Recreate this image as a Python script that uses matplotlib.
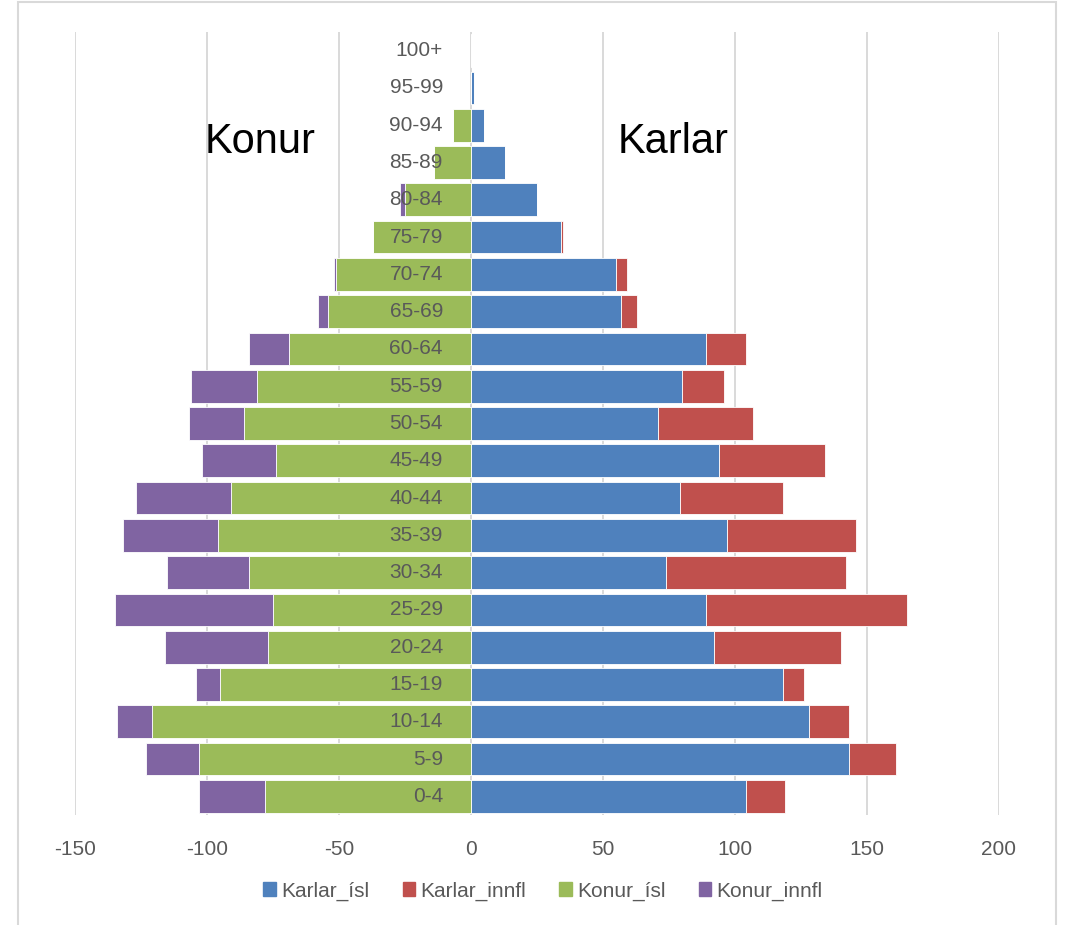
import matplotlib
matplotlib.use("Agg")
import matplotlib.pyplot as plt
from matplotlib.patches import Rectangle, Patch
from matplotlib.transforms import ScaledTranslation

plt.rcParams["axes.unicode_minus"] = False
plt.rcParams["font.family"] = ["Liberation Sans Narrow", "Liberation Sans", "DejaVu Sans"]

# ── Gögn: aldursflokkar og fjöldi ───────────────────────────
ages = ["0-4", "5-9", "10-14", "15-19", "20-24", "25-29", "30-34", "35-39",
        "40-44", "45-49", "50-54", "55-59", "60-64", "65-69", "70-74",
        "75-79", "80-84", "85-89", "90-94", "95-99", "100+"]
karlar_isl   = [104, 143, 128, 118, 92, 89, 74, 97, 79, 94, 71, 80, 89, 57, 55, 34, 25, 13, 5, 1, 0]
karlar_innfl = [15, 18, 15, 8, 48, 76, 68, 49, 39, 40, 36, 16, 15, 6, 4, 1, 0, 0, 0, 0, 0]
konur_isl    = [78, 103, 121, 95, 77, 75, 84, 96, 91, 74, 86, 81, 69, 54, 51, 37, 25, 14, 7, 0, 0]
konur_innfl  = [25, 20, 13, 9, 39, 60, 31, 36, 36, 28, 21, 25, 15, 4, 1, 0, 2, 0, 0, 0, 0]

x_ticks  = [-150, -100, -50, 0, 50, 100, 150, 200]
x_labels = ["-150", "-100", "-50", "0", "50", "100", "150", "200"]

C_KARL_ISL   = "#4F81BD"
C_KARL_INNFL = "#C0504D"
C_KONA_ISL   = "#9BBB59"
C_KONA_INNFL = "#8064A2"
GRAY_TXT = "#595959"
GRID = "#D9D9D9"

fig = plt.figure(figsize=(10.66, 9.25), dpi=100)
ax = fig.add_axes([75 / 1066, 110 / 925, 924 / 1066, 783 / 925])

y = list(range(len(ages)))
h = 0.88
kw = dict(height=h, edgecolor="white", linewidth=0.6)

# karlar til hægri
ax.barh(y, karlar_isl, color=C_KARL_ISL, **kw)
ax.barh(y, karlar_innfl, left=karlar_isl, color=C_KARL_INNFL, **kw)
# konur til vinstri (neikvæð gildi)
neg_isl = [-v for v in konur_isl]
neg_innfl = [-v for v in konur_innfl]
ax.barh(y, neg_isl, color=C_KONA_ISL, **kw)
ax.barh(y, neg_innfl, left=neg_isl, color=C_KONA_INNFL, **kw)

ax.set_xlim(-150, 200)
ax.set_ylim(-0.5, len(ages) - 0.5)
ax.set_xticks(x_ticks)
ax.set_xticklabels(x_labels)
ax.set_yticks([])

ax.set_axisbelow(True)
ax.grid(axis="x", color=GRID, lw=1.4)
for s in ["top", "right", "bottom", "left"]:
    ax.spines[s].set_visible(False)

ax.tick_params(axis="x", length=0, pad=18, labelsize=15, labelcolor=GRAY_TXT)

# aldursmerki ofan á súlunum, vinstra megin við 0-ásinn
lbl_tr = ax.transData + ScaledTranslation(-0.28, 0, fig.dpi_scale_trans)
for i, a in enumerate(ages):
    ax.text(0, i, a, transform=lbl_tr, ha="right", va="center",
            fontsize=15, color=GRAY_TXT, zorder=10)

ax.text(0.2, 0.8595, "Konur", transform=ax.transAxes, ha="center", va="center",
        fontsize=30, color="black", zorder=10)
ax.text(0.647, 0.8595, "Karlar", transform=ax.transAxes, ha="center", va="center",
        fontsize=30, color="black", zorder=10)

handles = [Patch(color=C_KARL_ISL), Patch(color=C_KARL_INNFL),
           Patch(color=C_KONA_ISL), Patch(color=C_KONA_INNFL)]
leg = fig.legend(handles, ["Karlar_ísl", "Karlar_innfl", "Konur_ísl", "Konur_innfl"],
                 loc="center", bbox_to_anchor=(543 / 1066, 1 - 891 / 925), ncol=4,
                 frameon=False, fontsize=15, handlelength=0.6, handleheight=0.6,
                 handletextpad=0.25, columnspacing=1.6)
for t in leg.get_texts():
    t.set_color(GRAY_TXT)

# rammi utan um myndina
fig.patches.append(Rectangle((18 / 1066, -0.01), 1038 / 1066, 1.01 - 2 / 925,
                             transform=fig.transFigure, fill=False,
                             edgecolor=GRID, lw=1.5))

fig.savefig("out.png", dpi=100)
